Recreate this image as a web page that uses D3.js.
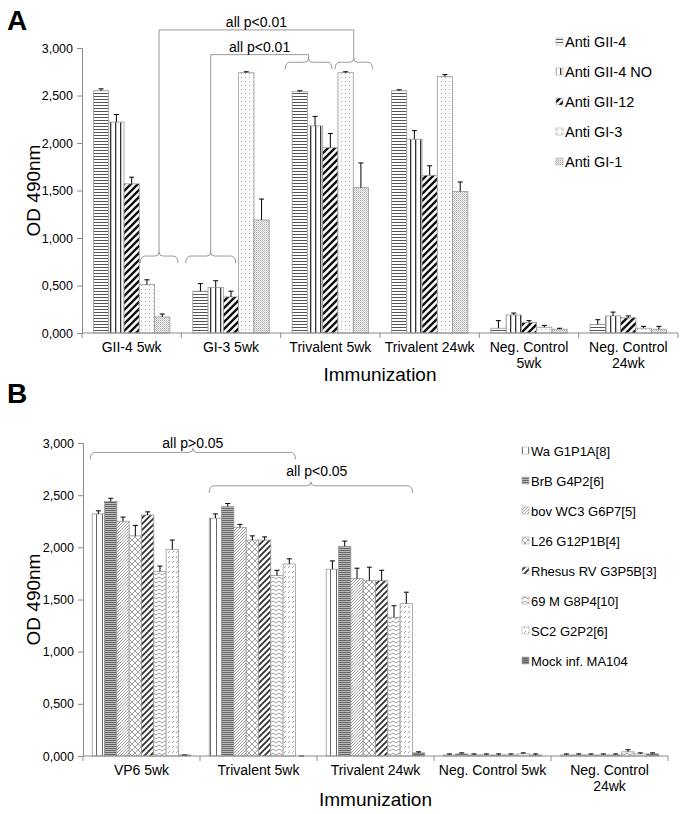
<!DOCTYPE html>
<html><head><meta charset="utf-8">
<script src="https://cdn.jsdelivr.net/npm/d3@7"></script>
<style>
html,body{margin:0;padding:0;background:#fff;}
svg text{font-family:"Liberation Sans",Arial,sans-serif;fill:#000;}
</style></head>
<body><svg id="c" width="683" height="814"></svg>
<script>
// ---------- Panel A data ----------
const catsA = ["GII-4 5wk","GI-3 5wk","Trivalent 5wk","Trivalent 24wk","Neg. Control 5wk","Neg. Control 24wk"];
const catLinesA = [["GII-4 5wk"],["GI-3 5wk"],["Trivalent 5wk"],["Trivalent 24wk"],["Neg. Control","5wk"],["Neg. Control","24wk"]];
const seriesA = ["Anti GII-4","Anti GII-4 NO","Anti GII-12","Anti GI-3","Anti GI-1"];
const antiGII4   = [2.55, 0.44, 2.54, 2.55, 0.05, 0.09];
const antiGII4NO = [2.22, 0.48, 2.18, 2.04, 0.19, 0.18];
const antiGII12  = [1.57, 0.38, 1.95, 1.66, 0.11, 0.16];
const antiGI3    = [0.51, 2.74, 2.74, 2.70, 0.06, 0.05];
const antiGI1    = [0.17, 1.19, 1.53, 1.49, 0.04, 0.04];
const errGII4    = [0.02, 0.08, 0.01, 0.01, 0.08, 0.05];
const errGII4NO  = [0.08, 0.07, 0.10, 0.09, 0.02, 0.04];
const errGII12   = [0.07, 0.06, 0.15, 0.10, 0.02, 0.02];
const errGI3     = [0.05, 0.01, 0.01, 0.02, 0.02, 0.02];
const errGI1     = [0.03, 0.22, 0.26, 0.10, 0.01, 0.03];
const valuesA = [antiGII4, antiGII4NO, antiGII12, antiGI3, antiGI1];
const errorsA = [errGII4, errGII4NO, errGII12, errGI3, errGI1];
const ticksA = [0, 0.5, 1, 1.5, 2, 2.5, 3];

// ---------- Panel B data ----------
const catsB = ["VP6 5wk","Trivalent 5wk","Trivalent 24wk","Neg. Control 5wk","Neg. Control 24wk"];
const catLinesB = [["VP6 5wk"],["Trivalent 5wk"],["Trivalent 24wk"],["Neg. Control 5wk"],["Neg. Control","24wk"]];
const seriesB = ["Wa G1P1A[8]","BrB G4P2[6]","bov WC3 G6P7[5]","L26 G12P1B[4]","Rhesus RV G3P5B[3]","69 M G8P4[10]","SC2 G2P2[6]","Mock inf. MA104"];
const wa     = [2.32, 2.28, 1.79, 0.01, 0.01];
const brb    = [2.44, 2.39, 2.01, 0.02, 0.01];
const bov    = [2.25, 2.19, 1.70, 0.01, 0.01];
const l26    = [2.11, 2.07, 1.68, 0.01, 0.01];
const rhesus = [2.31, 2.07, 1.68, 0.01, 0.01];
const m69    = [1.77, 1.73, 1.33, 0.01, 0.04];
const sc2    = [1.98, 1.84, 1.46, 0.02, 0.02];
const mock   = [0.01, 0.00, 0.03, 0.01, 0.02];
const errWa     = [0.03, 0.04, 0.08, 0.01, 0.01];
const errBrb    = [0.03, 0.03, 0.05, 0.01, 0.01];
const errBov    = [0.04, 0.03, 0.10, 0.01, 0.01];
const errL26    = [0.10, 0.04, 0.13, 0.01, 0.01];
const errRhesus = [0.03, 0.03, 0.10, 0.01, 0.01];
const errM69    = [0.05, 0.05, 0.11, 0.01, 0.02];
const errSc2    = [0.09, 0.05, 0.11, 0.01, 0.01];
const errMock   = [0.00, 0.00, 0.01, 0.01, 0.01];
const valuesB = [wa, brb, bov, l26, rhesus, m69, sc2, mock];
const errorsB = [errWa, errBrb, errBov, errL26, errRhesus, errM69, errSc2, errMock];
const ticksB = [0, 0.5, 1, 1.5, 2, 2.5, 3];

const svg = d3.select("#c");
const defs = svg.append("defs");

function pat(id, w, h, bg, draw){
  const p = defs.append("pattern").attr("id", id).attr("patternUnits","userSpaceOnUse")
    .attr("width", w).attr("height", h);
  p.append("rect").attr("width", w).attr("height", h).attr("fill", bg);
  draw(p);
}
// Panel A patterns
pat("pA0",4,3,"#fff",p=>p.append("rect").attr("y",0).attr("width",4).attr("height",1).attr("fill","#555"));
pat("pA1",5,4,"#fff",p=>p.append("rect").attr("x",0).attr("width",1.3).attr("height",4).attr("fill","#333"));
pat("pA2",7,7,"#fff",p=>{
  p.append("path").attr("d","M-1,8 L8,-1 M-4,4 L4,-4 M3,11 L11,3").attr("stroke","#111").attr("stroke-width",2.4);
});
pat("pA3",4,4,"#fff",p=>{p.append("rect").attr("x",1).attr("y",1).attr("width",1).attr("height",1).attr("fill","#aaa");});
pat("pA4",2,2,"#f4f4f4",p=>{p.append("rect").attr("width",1).attr("height",1).attr("fill","#aaa");p.append("rect").attr("x",1).attr("y",1).attr("width",1).attr("height",1).attr("fill","#ccc");});
// Panel B patterns
pat("pB0",6,4,"#fff",p=>p.append("rect").attr("width",1).attr("height",4).attr("fill","#666"));
pat("pB1",4,2,"#bbb",p=>p.append("rect").attr("width",4).attr("height",1).attr("fill","#666"));
pat("pB2",3,3,"#fff",p=>p.append("path").attr("d","M-1,4 L4,-1 M-1,1 L1,-1 M2,4 L4,2").attr("stroke","#888").attr("stroke-width",0.8));
pat("pB3",6,6,"#fff",p=>p.append("path").attr("d","M0,0 L6,6 M6,0 L0,6").attr("stroke","#888").attr("stroke-width",0.8));
pat("pB4",6,6,"#fff",p=>p.append("path").attr("d","M-1,7 L7,-1 M-3,3 L3,-3 M3,9 L9,3").attr("stroke","#333").attr("stroke-width",1.8));
pat("pB5",6,4,"#fff",p=>p.append("path").attr("d","M0,3 L3,1 L6,3").attr("stroke","#888").attr("stroke-width",0.8).attr("fill","none"));
pat("pB6",4,5,"#fff",p=>p.append("path").attr("d","M0,3 L2,1").attr("stroke","#999").attr("stroke-width",0.9));
pat("pB7",4,2,"#888",p=>p.append("rect").attr("width",4).attr("height",1).attr("fill","#666"));

const fmt = v => d3.format(".3f")(v).replace(".", ",");
const axisColor = "#8c8c8c";

function panel(o){
  const g = svg.append("g");
  const x = d3.scaleBand().domain(o.cats).range([o.x0, o.x1]).padding(0);
  const y = d3.scaleLinear().domain([0, 3]).range([o.yBase, o.yTop]);
  const nS = o.series.length;
  const bw = x.bandwidth() / (nS + 1.5);
  const xs = d3.scaleBand().domain(d3.range(nS)).range([0.75*bw, 0.75*bw + nS*bw]).padding(0);
  o.scales = {x, y, xs, bw};

  // y axis
  const ya = d3.axisLeft(y).tickValues(o.ticks).tickSize(5).tickFormat(fmt);
  const yg = g.append("g").attr("transform",`translate(${o.x0},0)`).call(ya);
  yg.select(".domain").attr("stroke",axisColor);
  yg.selectAll(".tick line").attr("stroke",axisColor);
  yg.selectAll(".tick text").attr("font-size",12.5).attr("fill","#111").attr("x",-9);

  // bars
  o.series.forEach((s, si) => {
    const vals = o.values[si], errs = o.errors[si];
    const sg = g.append("g");
    sg.selectAll("rect").data(o.cats).enter().append("rect")
      .attr("x", (c) => x(c) + xs(si))
      .attr("y", (c,i) => y(vals[i]))
      .attr("width", xs.bandwidth())
      .attr("height", (c,i) => o.yBase - y(vals[i]))
      .attr("fill", `url(#${o.pats[si]})`)
      .attr("stroke", "#9a9a9a").attr("stroke-width", 0.8);
    sg.selectAll("path.err").data(o.cats).enter().append("path")
      .attr("class","err")
      .attr("d", (c,i) => {
        const cx = x(c) + xs(si) + xs.bandwidth()/2;
        const y1 = y(vals[i]), y2 = y(vals[i] + errs[i]);
        return `M${cx},${y1}V${y2}M${cx-2.5},${y2}H${cx+2.5}`;
      })
      .attr("stroke","#000").attr("stroke-width",1).attr("fill","none");
  });

  // x axis
  g.append("line").attr("x1",o.x0).attr("x2",o.x1).attr("y1",o.yBase).attr("y2",o.yBase).attr("stroke",axisColor);
  const bounds = o.cats.map(c => x(c)).concat([o.x1]);
  g.selectAll("line.xt").data(bounds).enter().append("line").attr("class","xt")
    .attr("x1",d=>d).attr("x2",d=>d).attr("y1",o.yBase).attr("y2",o.yBase+5).attr("stroke",axisColor);
  o.catLines.forEach((lines, i) => {
    const t = g.append("text").attr("text-anchor","middle").attr("font-size",14)
      .attr("x", x(o.cats[i]) + x.bandwidth()/2).attr("y", o.yBase + o.labelDy);
    lines.forEach((ln, k) => t.append("tspan").attr("x", x(o.cats[i]) + x.bandwidth()/2).attr("dy", k===0?0:16).text(ln));
  });

  // axis titles
  g.append("text").attr("text-anchor","middle").attr("font-size",19)
    .attr("transform",`translate(${o.yTitleX},${(o.yTop+o.yBase)/2}) rotate(-90)`).text("OD 490nm");
  g.append("text").attr("text-anchor","middle").attr("font-size",19)
    .attr("x",(o.x0+o.x1)/2).attr("y",o.xTitleY).text("Immunization");
  g.append("text").attr("font-size",28).attr("font-weight","bold").attr("x",o.letterX).attr("y",o.letterY).text(o.letter);

  // legend
  const lg = g.append("g");
  o.series.forEach((s, si) => {
    const yy = o.legY + si*o.legStep;
    lg.append("rect").attr("x",o.legX).attr("y",yy-4).attr("width",7).attr("height",7)
      .attr("fill",`url(#${o.pats[si]})`).attr("stroke","#aaa").attr("stroke-width",0.6);
    lg.append("text").attr("x",o.legX+9).attr("y",yy+4.5).attr("font-size",o.legFont).text(s);
  });
  return o;
}

const A = panel({cats:catsA, catLines:catLinesA, series:seriesA, values:valuesA, errors:errorsA, ticks:ticksA,
  pats:["pA0","pA1","pA2","pA3","pA4"],
  x0:82, x1:678, yTop:48, yBase:333, labelDy:19, yTitleX:40, xTitleY:381,
  letter:"A", letterX:7, letterY:30, legX:556, legY:42, legStep:30, legFont:14.5});

const B = panel({cats:catsB, catLines:catLinesB, series:seriesB, values:valuesB, errors:errorsB, ticks:ticksB,
  pats:["pB0","pB1","pB2","pB3","pB4","pB5","pB6","pB7"],
  x0:83, x1:668, yTop:443, yBase:756, labelDy:19, yTitleX:40, xTitleY:806,
  letter:"B", letterX:7, letterY:403, legX:522, legY:451, legStep:30, legFont:13});

// ---------- significance brackets ----------
const bc = "#999";
function barStart(P, ci, si){ const s=P.scales; return s.x(P.cats[ci]) + s.xs(si); }
function barEnd(P, ci, si){ const s=P.scales; return s.x(P.cats[ci]) + s.xs(si) + s.xs.bandwidth(); }
function brace(x1, x2, yv, P, xm){
  const y = P.scales.y(yv);
  xm = xm === undefined ? (x1+x2)/2 : xm;
  const d = `M${x1},${y+7} Q${x1},${y} ${x1+5},${y} L${xm-4},${y} Q${xm},${y} ${xm},${y-4} Q${xm},${y} ${xm+4},${y} L${x2-5},${y} Q${x2},${y} ${x2},${y+7}`;
  svg.append("path").attr("d",d).attr("fill","none").attr("stroke",bc).attr("stroke-width",1);
  return {xm, top: y-4};
}
const s1 = brace(barStart(A,0,3)+1, barEnd(A,0,4)+8, 0.81, A);
const s2 = brace(barStart(A,1,0)-7, barEnd(A,1,2)-3, 0.81, A);
const s3 = brace(barStart(A,2,0)-7, barEnd(A,2,2)-6, 2.85, A);
const s4 = brace(barStart(A,2,3)-3, barEnd(A,2,4)+4, 2.85, A);
function link(sa, sb, yv, P, label){
  const y = P.scales.y(yv);
  svg.append("path").attr("d",`M${sa.xm},${sa.top}V${y}H${sb.xm}V${sb.top}`)
    .attr("fill","none").attr("stroke",bc).attr("stroke-width",1);
  svg.append("text").attr("x",(sa.xm+sb.xm)/2).attr("y",y-3).attr("text-anchor","middle")
    .attr("font-size",14).text(label);
}
link(s1, s4, 3.19, A, "all p<0.01");
link(s2, s3, 2.93, A, "all p<0.01");
const b1 = brace(barStart(B,0,0)-2, barEnd(B,1,6), 2.91, B);
svg.append("text").attr("x",b1.xm).attr("y",b1.top).attr("text-anchor","middle").attr("font-size",14).text("all p>0.05");
const b2 = brace(barStart(B,1,0), barEnd(B,2,6), 2.59, B);
svg.append("text").attr("x",b2.xm+6).attr("y",b2.top-6).attr("text-anchor","middle").attr("font-size",14).text("all p<0.05");
</script>
</body></html>
